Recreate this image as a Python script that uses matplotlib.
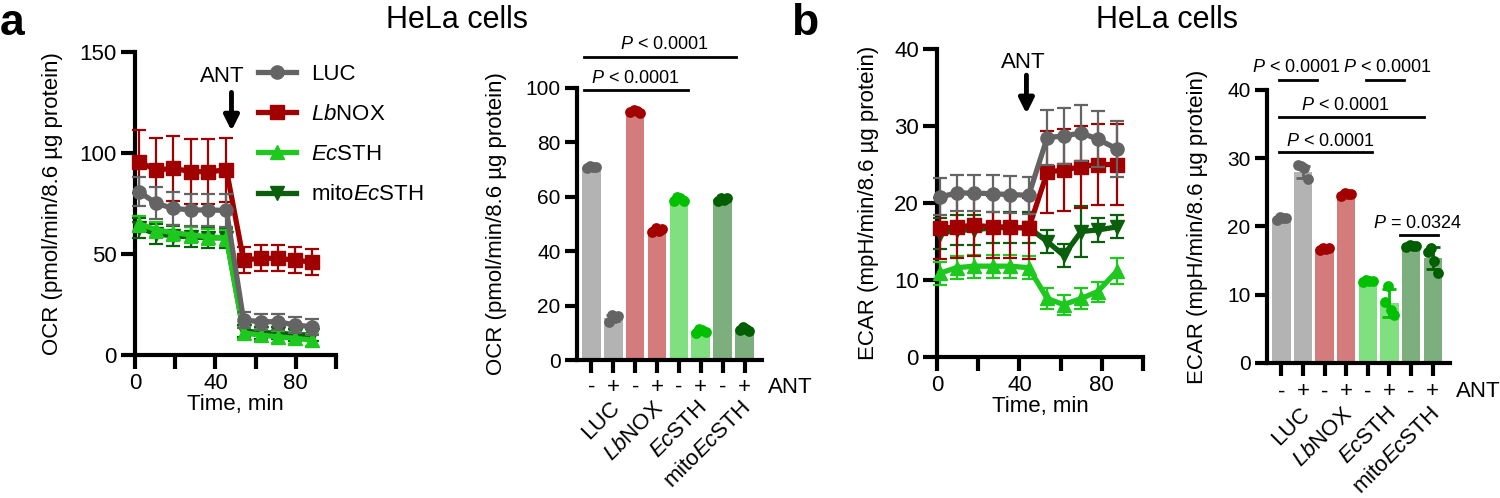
import matplotlib
matplotlib.use('Agg')
import matplotlib.pyplot as plt
from matplotlib.lines import Line2D

plt.rcParams['font.family'] = ['Liberation Sans', 'DejaVu Sans']
plt.rcParams['mathtext.fontset'] = 'custom'
plt.rcParams['mathtext.rm'] = 'Liberation Sans'
plt.rcParams['mathtext.it'] = 'Liberation Sans:italic'

# --- time course data (mean, SD) ---
time_a = [2, 10.5, 19, 28, 36.5, 45.5, 54, 62.5, 71, 79.5, 88]
time_b = [1.5, 9.5, 18, 27, 35.5, 44.5, 53.5, 61.5, 70, 78, 87.5]

ocr_luc = [80.9, 75.1, 72.6, 71.8, 71.8, 71.6, 17.3, 16.5, 16.5, 14.9, 14.0]
ocr_luc_err = [7, 8, 8, 8, 8, 8, 4, 4, 4, 4, 4]
ocr_nox = [95.7, 91.6, 92.4, 90.8, 90.8, 91.6, 47.0, 47.9, 47.9, 47.0, 46.0]
ocr_nox_err = [15.5, 16, 16, 16, 16, 16, 6.5, 6.5, 6.5, 6.5, 6.5]
ocr_sth = [65.0, 62.0, 60.5, 59.5, 58.5, 58.0, 10.9, 9.9, 9.0, 8.3, 7.4]
ocr_sth_err = [4, 4, 4, 4, 4, 4, 3, 3, 3, 3, 3]
ocr_mito = [63.0, 60.0, 59.0, 58.5, 58.0, 58.0, 12.0, 11.0, 11.0, 10.0, 10.0]
ocr_mito_err = [5, 5, 5, 5, 5, 5, 3, 3, 3, 3, 3]

ecar_luc = [20.8, 21.3, 21.3, 21.2, 21.1, 21.0, 28.5, 28.7, 29.1, 28.3, 27.0]
ecar_luc_err = [2.4, 2.4, 2.4, 2.4, 2.4, 2.4, 3.6, 3.6, 3.6, 3.6, 3.6]
ecar_nox = [16.7, 16.9, 17.1, 16.9, 16.9, 16.7, 24.0, 24.3, 24.7, 25.0, 25.0]
ecar_nox_err = [4, 4, 4, 4, 4, 4, 5.3, 5.3, 5.3, 5.3, 5.3]
ecar_sth = [10.9, 11.6, 11.8, 11.8, 11.8, 11.6, 7.6, 6.8, 7.6, 8.5, 11.2]
ecar_sth_err = [1.5, 1.5, 1.5, 1.5, 1.5, 1.5, 1.3, 1.3, 1.3, 1.3, 1.7]
ecar_mito = [16.0, 16.5, 16.5, 16.8, 16.8, 16.8, 15.0, 13.2, 16.3, 16.5, 16.9]
ecar_mito_err = [2, 2, 2, 2, 2, 2, 1.5, 1.5, 3.3, 1.5, 1.5]

# --- bar data ---
groups = ['LUC', '$\\mathit{Lb}$NOX', '$\\mathit{Ec}$STH', 'mito$\\mathit{Ec}$STH']
ant_labels = ['-', '+', '-', '+', '-', '+', '-', '+']

ocr_bar = [71.0, 15.5, 91.3, 47.8, 59.1, 10.7, 59.1, 11.3]
ocr_bar_sd = [0.5, 1.1, 0.5, 0.6, 0.7, 0.7, 0.5, 0.5]
ocr_dots = [[70.5, 71.5, 71.0, 70.8], [14.0, 16.5, 15.5, 16.0],
            [91.0, 92.0, 91.5, 90.8], [47.0, 48.5, 47.5, 48.0],
            [58.5, 60.0, 59.5, 58.5], [10.0, 11.5, 11.0, 10.2],
            [58.5, 59.5, 59.0, 59.5], [11.0, 12.0, 11.5, 10.8]]

ecar_bar = [21.2, 28.0, 16.7, 24.7, 12.0, 8.8, 17.1, 15.4]
ecar_bar_sd = [0.2, 0.9, 0.2, 0.2, 0.1, 2.0, 0.1, 1.6]
ecar_dots = [[21.0, 21.4, 21.2, 21.3], [29.0, 28.8, 28.5, 27.0],
             [16.5, 16.9, 16.7, 16.8], [24.5, 24.9, 24.7, 24.8],
             [11.9, 12.1, 12.0, 12.0], [9.0, 11.3, 7.8, 7.0],
             [17.0, 17.3, 17.1, 17.2], [16.3, 16.8, 15.0, 13.2]]

# significance brackets: (x0, x1, line y, text x, text y, label)
ocr_sig = [(-0.32, 4.42, 99.3, 2.0, 103.5, '$\\mathit{P}$ < 0.0001'),
           (-0.32, 6.6, 111.3, 3.35, 116.0, '$\\mathit{P}$ < 0.0001')]
ecar_sig = [(-0.1, 1.65, 41.4, 0.7, 43.3, '$\\mathit{P}$ < 0.0001'),
            (3.9, 5.65, 41.4, 4.9, 43.3, '$\\mathit{P}$ < 0.0001'),
            (-0.1, 6.6, 36.1, 2.95, 37.7, '$\\mathit{P}$ < 0.0001'),
            (-0.1, 4.2, 30.9, 2.25, 32.5, '$\\mathit{P}$ < 0.0001'),
            (5.5, 7.25, 18.7, 6.3, 20.5, '$\\mathit{P}$ = 0.0324')]

line_cols = ['#646464', '#a00000', '#1ec81e', '#0b5e0b']
dot_cols = ['#646464', '#a30000', '#00c000', '#005f00']
bar_cols = ['#b3b3b3', '#d47c7c', '#80e080', '#7dae7d']
markers = ['o', 's', '^', 'v']
names = ['LUC', '$\\mathit{Lb}$NOX', '$\\mathit{Ec}$STH', 'mito$\\mathit{Ec}$STH']

fig = plt.figure(figsize=(15, 4.98), dpi=100)
ax_a1 = fig.add_axes([0.09, 0.2871, 0.134, 0.6084])
ax_a2 = fig.add_axes([0.3847, 0.2771, 0.1233, 0.5462])
ax_b1 = fig.add_axes([0.6247, 0.2831, 0.1373, 0.6185])
ax_b2 = fig.add_axes([0.8447, 0.2711, 0.122, 0.5482])


def style_axes(ax, tick_len, lab_size):
    for s in ['top', 'right']:
        ax.spines[s].set_visible(False)
    for s in ['left', 'bottom']:
        ax.spines[s].set_linewidth(3)
    ax.tick_params(width=3, length=tick_len, labelsize=lab_size, pad=3)


def time_course(ax, t, series, errs, ylim, yticks, ylabel, arrow):
    # draw bottom to top: mito, EcSTH, LbNOX, LUC
    for i in [3, 2, 1, 0]:
        ax.errorbar(t, series[i], yerr=errs[i], color=line_cols[i], lw=3.8,
                    marker=markers[i], ms=9.5, elinewidth=1.6, capsize=5,
                    capthick=1.6, clip_on=False, zorder=3 + (3 - i))
    ax.set_xlim(0, 100)
    ax.set_ylim(*ylim)
    ax.set_xticks([0, 20, 40, 60, 80, 100])
    ax.set_xticklabels(['0', '', '40', '', '80', ''])
    ax.set_yticks(yticks)
    style_axes(ax, 10, 16)
    ax.set_xlabel('Time, min', fontsize=16, labelpad=0)
    ax.set_ylabel(ylabel, fontsize=16)
    ax_x, tip, top, tx, ty = arrow
    ax.annotate('', xy=(ax_x, tip), xytext=(ax_x, top),
                arrowprops=dict(arrowstyle='-|>', lw=3.5, color='k',
                                mutation_scale=22, shrinkA=0, shrinkB=0),
                annotation_clip=False)
    ax.text(tx, ty, 'ANT', ha='center', va='center', fontsize=16)


def bar_panel(ax, vals, sds, dots, ylim, yticks, ylabel, sigs, lab_y, grp_y):
    x = list(range(8))
    cols = [bar_cols[i // 2] for i in x]
    ax.bar(x, vals, width=0.85, color=cols, zorder=1)
    offs = [-0.22, -0.07, 0.07, 0.22]
    for i in x:
        ax.errorbar(i, vals[i], yerr=sds[i], fmt='none', ecolor=dot_cols[i // 2],
                    elinewidth=2, capsize=5, capthick=2, zorder=2)
        ax.scatter([i + o for o in offs], dots[i], s=60, color=dot_cols[i // 2],
                   zorder=3, clip_on=False, linewidths=0)
    ax.set_xlim(-0.66, 7.8)
    ax.set_ylim(*ylim)
    ax.set_yticks(yticks)
    ax.set_xticks(x)
    ax.set_xticklabels([])
    style_axes(ax, 9, 15)
    ax.set_ylabel(ylabel, fontsize=16)
    tr = ax.get_xaxis_transform()
    for i in x:
        ax.text(i, lab_y, ant_labels[i], transform=tr, ha='center', va='center',
                fontsize=16)
    ax.text(8.05, lab_y, 'ANT', transform=tr, ha='left', va='center', fontsize=16)
    for g in range(4):
        ax.text(2 * g + 1.15, grp_y, groups[g], transform=tr, ha='right',
                va='center', rotation=45, rotation_mode='anchor', fontsize=16)
    for x0, x1, y, tx, ty, lab in sigs:
        ax.plot([x0, x1], [y, y], color='k', lw=2, clip_on=False)
        ax.text(tx, ty, lab, ha='center', va='center', fontsize=13)


time_course(ax_a1, time_a, [ocr_luc, ocr_nox, ocr_sth, ocr_mito],
            [ocr_luc_err, ocr_nox_err, ocr_sth_err, ocr_mito_err],
            (0, 150), [0, 50, 100, 150], 'OCR (pmol/min/8.6 µg protein)',
            (48, 111, 130, 43.5, 138))
time_course(ax_b1, time_b, [ecar_luc, ecar_nox, ecar_sth, ecar_mito],
            [ecar_luc_err, ecar_nox_err, ecar_sth_err, ecar_mito_err],
            (0, 40), [0, 10, 20, 30, 40], 'ECAR (mpH/min/8.6 µg protein)',
            (43.4, 31.6, 36.6, 42, 38.3))

bar_panel(ax_a2, ocr_bar, ocr_bar_sd, ocr_dots, (0, 100), [0, 20, 40, 60, 80, 100],
          'OCR (pmol/min/8.6 µg protein)', ocr_sig, -0.1, -0.165)
bar_panel(ax_b2, ecar_bar, ecar_bar_sd, ecar_dots, (0, 40), [0, 10, 20, 30, 40],
          'ECAR (mpH/min/8.6 µg protein)', ecar_sig, -0.106, -0.175)

ax_a1.yaxis.set_label_coords(-0.36, 0.5)
ax_a2.yaxis.set_label_coords(-0.38, 0.5)
ax_b1.yaxis.set_label_coords(-0.28, 0.5)
ax_b2.yaxis.set_label_coords(-0.32, 0.5)

handles = [Line2D([], [], color=line_cols[i], marker=markers[i], lw=3.8, ms=9.5)
           for i in range(4)]
ax_a1.legend(handles, names, loc='upper left', bbox_to_anchor=(258 / 1500, 1 - 64 / 498),
             bbox_transform=fig.transFigure, frameon=False, fontsize=16,
             handlelength=1.7, handletextpad=0.7, labelspacing=0.86, borderpad=0,
             borderaxespad=0)

fig.text(457 / 1500, 1 - 20 / 498, 'HeLa cells', ha='center', va='center', fontsize=22)
fig.text(1167 / 1500, 1 - 20 / 498, 'HeLa cells', ha='center', va='center', fontsize=22)
fig.text(0 / 1500, 1 - 35 / 498, 'a', ha='left', va='baseline', fontsize=32,
         fontweight='bold')
fig.text(791 / 1500, 1 - 35 / 498, 'b', ha='left', va='baseline', fontsize=32,
         fontweight='bold')

fig.savefig('out.png', dpi=100)
